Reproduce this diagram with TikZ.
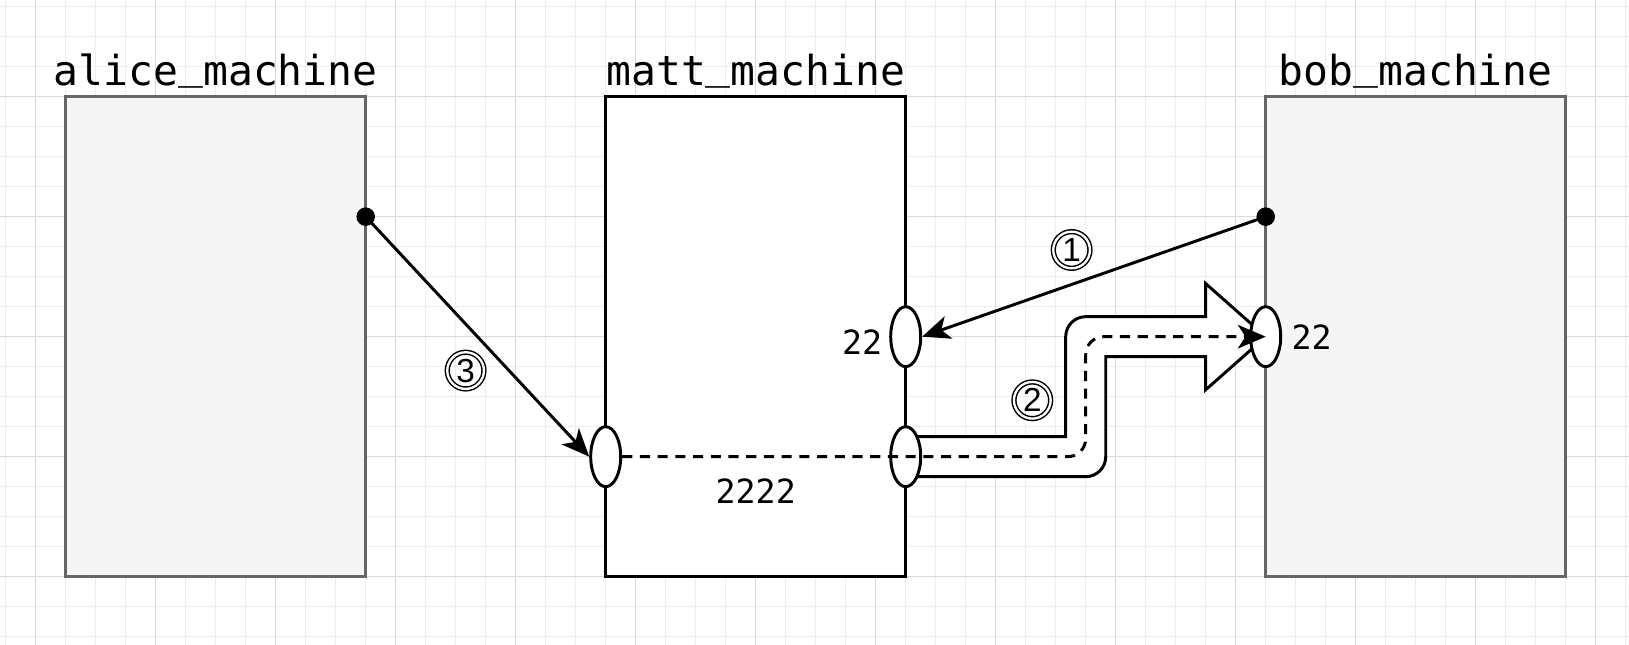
\documentclass[tikz,border=0pt]{standalone}
\usepackage{fontspec}
\setmonofont{DejaVu Sans Mono}
\newfontfamily\circfont{Liberation Sans}
\usepackage{tikz}
\usetikzlibrary{arrows.meta,shapes.geometric}
\definecolor{boxgray}{HTML}{F5F5F5}
\definecolor{edgegray}{HTML}{666666}
\newcommand\lowbar{\raisebox{0.17em}{\_}}

\begin{document}
\begin{tikzpicture}[x=0.25cm,y=0.25cm,
    machine/.style={draw=edgegray,fill=boxgray,line width=0.7pt,minimum width=2.5cm,minimum height=4cm,inner sep=0},
    host/.style={machine,draw=black,fill=white},
    title/.style={anchor=base,inner sep=0,font=\ttfamily\fontsize{9.8pt}{12pt}\selectfont},
    portnum/.style={inner sep=0,font=\ttfamily\fontsize{7.9pt}{9pt}\selectfont},
    port/.style={ellipse,draw,fill=white,line width=0.7pt,minimum width=0.25cm,minimum height=0.5cm,inner sep=0},
    dot/.style={circle,fill=black,minimum size=4.4pt,inner sep=0},
    stepnum/.style={circle,draw,double,double distance=0.55pt,line width=0.35pt,minimum size=8.7pt,inner sep=0,font=\circfont\fontsize{7.9pt}{9pt}\selectfont},
    link/.style={line width=0.7pt,-{Stealth[length=6.6pt,width=5.6pt,inset=1.8pt]}}]
    \useasboundingbox (-0.19,-0.277) rectangle (54.11,21.223);
    \fill[white] (-0.19,-0.277) rectangle (54.11,21.223);
    % grid
    \foreach \x in {0,...,54}{\draw[black!7,line width=0.25pt] (\x,-0.277) -- (\x,21.223);}
    \foreach \y in {0,...,21}{\draw[black!7,line width=0.25pt] (-0.19,\y) -- (54.11,\y);}
    \foreach \x in {1,5,...,53}{\draw[black!15,line width=0.25pt] (\x,-0.277) -- (\x,21.223);}
    \foreach \y in {2,6,...,18}{\draw[black!15,line width=0.25pt] (-0.19,\y) -- (54.11,\y);}

    % machines
    \node[machine] (alice) at (7,10) {};
    \node[host] (matt) at (25,10) {};
    \node[machine] (bob) at (47,10) {};
    \node[title] (alicename) at (7,18.36) {alice\lowbar machine};
    \node[title] (mattname) at (25,18.36) {matt\lowbar machine};
    \node[title] (bobname) at (47,18.36) {bob\lowbar machine};

    % tunnel
    \draw[line width=0.7pt,fill=white] (30,6.667) -- (35.333,6.667) -- (35.333,10)
        arc[start angle=180,end angle=90,radius=0.667] -- (40,10.667) -- (40,11.77)
        -- (42,10) -- (40,8.23) -- (40,9.333) -- (36.667,9.333) -- (36.667,6)
        arc[start angle=0,end angle=-90,radius=0.667] -- (30,5.333) -- cycle;

    % ports
    \node[port] (mattssh) at (30,10) {};
    \node[port] (mattfwd) at (30,6) {};
    \node[port] (mattin) at (20,6) {};
    \node[port] (bobssh) at (42,10) {};
    \node[portnum] (mattsshnum) at (28.55,9.81) {22};
    \node[portnum] (bobsshnum) at (43.53,10) {22};
    \node[portnum] (fwdnum) at (25,4.86) {2222};

    % connections
    \node[dot] (alicedot) at (12,14) {};
    \node[dot] (bobdot) at (42,14) {};
    \draw[link] (bobdot.center) -- (mattssh.east);
    \draw[link] (alicedot.center) -- (mattin.west);
    \draw[link,dash pattern=on 2.4pt off 1.8pt,rounded corners=1.5mm] (mattin.east) -- (36,6) -- (36,10) -- (bobssh.center);

    \node[stepnum] (one) at (35.53,12.89) {1};
    \node[stepnum] (two) at (34.22,7.88) {2};
    \node[stepnum] (three) at (15.33,8.87) {3};
\end{tikzpicture}
\end{document}
